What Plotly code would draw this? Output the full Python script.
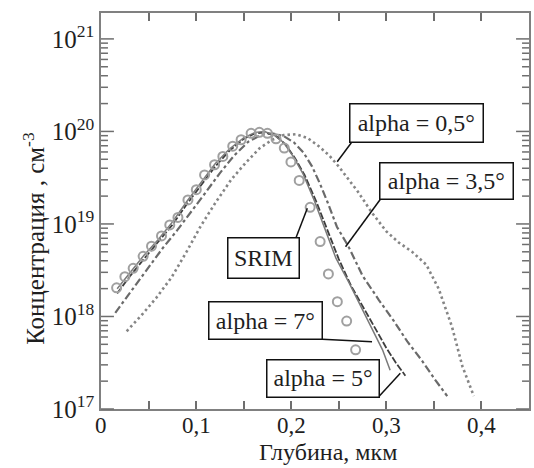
import math
import plotly.graph_objects as go

# Depth (um) and log10 of concentration (cm^-3) for each profile
srim_x = [0.0164, 0.0251, 0.0338, 0.0443, 0.0531, 0.0636, 0.0723, 0.0809, 0.0914, 0.1002,
          0.1089, 0.1194, 0.1281, 0.1385, 0.1473, 0.1578, 0.1665, 0.1750, 0.1840, 0.1927,
          0.1997, 0.2084, 0.2199, 0.2304, 0.2391, 0.2485, 0.2583, 0.2677]
srim_lg = [18.31, 18.43, 18.52, 18.65, 18.76, 18.87, 18.99, 19.07, 19.26, 19.37,
           19.53, 19.64, 19.73, 19.84, 19.91, 19.98, 19.99, 19.98, 19.92, 19.82,
           19.67, 19.47, 19.18, 18.81, 18.46, 18.16, 17.95, 17.64]

a7_x = [0.017, 0.030, 0.045, 0.060, 0.075, 0.090, 0.105, 0.120, 0.135, 0.150, 0.162, 0.172,
        0.182, 0.192, 0.202, 0.212, 0.224, 0.236, 0.247, 0.261, 0.275, 0.285, 0.296, 0.304]
a7_lg = [18.30, 18.47, 18.66, 18.83, 19.02, 19.24, 19.44, 19.65, 19.81, 19.93, 19.99, 20.00,
         19.96, 19.88, 19.73, 19.55, 19.26, 18.94, 18.63, 18.36, 18.07, 17.86, 17.64, 17.42]

a5_x = [0.017, 0.030, 0.045, 0.060, 0.075, 0.090, 0.105, 0.120, 0.135, 0.150, 0.162, 0.173,
        0.184, 0.194, 0.204, 0.214, 0.226, 0.238, 0.250, 0.263, 0.277, 0.289, 0.300, 0.310, 0.320]
a5_lg = [18.25, 18.43, 18.62, 18.80, 18.99, 19.21, 19.41, 19.62, 19.79, 19.92, 19.98, 19.99,
         19.95, 19.86, 19.71, 19.53, 19.25, 18.93, 18.62, 18.33, 18.08, 17.85, 17.66, 17.50, 17.36]

a35_x = [0.015, 0.025, 0.035, 0.050, 0.065, 0.080, 0.095, 0.110, 0.125, 0.140, 0.155, 0.168,
         0.180, 0.192, 0.203, 0.213, 0.222, 0.230, 0.238, 0.248, 0.260, 0.275, 0.292, 0.308,
         0.322, 0.337, 0.351, 0.364]
a35_lg = [18.04, 18.18, 18.33, 18.54, 18.74, 18.93, 19.13, 19.34, 19.55, 19.74, 19.89, 19.96,
          19.98, 19.95, 19.88, 19.77, 19.62, 19.44, 19.24, 18.97, 18.76, 18.44, 18.18, 17.95,
          17.73, 17.53, 17.32, 17.14]

a05_x = [0.027, 0.044, 0.058, 0.074, 0.090, 0.105, 0.121, 0.137, 0.152, 0.167, 0.180, 0.192,
         0.205, 0.217, 0.229, 0.240, 0.250, 0.260, 0.270, 0.285, 0.300, 0.313, 0.327, 0.342,
         0.355, 0.369, 0.380, 0.392]
a05_lg = [17.84, 18.03, 18.20, 18.42, 18.70, 18.98, 19.24, 19.48, 19.66, 19.82, 19.91, 19.96,
          19.97, 19.93, 19.84, 19.74, 19.62, 19.49, 19.35, 19.12, 18.92, 18.80, 18.70, 18.56,
          18.30, 17.89, 17.46, 17.14]

x_tickvals = [0, 0.05, 0.1, 0.15, 0.2, 0.25, 0.3, 0.35, 0.4, 0.45]
x_labelvals = [0, 0.1, 0.2, 0.3, 0.4]
x_labeltext = ["0", "0,1", "0,2", "0,3", "0,4"]
y_decades = [17, 18, 19, 20, 21]
y_minor_mult = [2, 3, 4, 5, 6, 7, 8, 9]


def conc(lg):
    return [10 ** v for v in lg]


# figure geometry (pixels) used to place labels, leader lines and log ticks
W, H = 534, 468
L, R, T, B = 101, 3, 13, 59
PW, PH = W - L - R, H - T - B
Y_RANGE = [17, 21.28]


def px(xp):
    return (xp - L) / PW


def py(yp):
    return (H - B - yp) / PH


def yfrac(v):
    # position of a concentration value on the log axis, as a fraction of the plot height
    return (math.log10(v) - Y_RANGE[0]) / (Y_RANGE[1] - Y_RANGE[0])


SERIF = "Liberation Serif, Times New Roman, serif"
INK = "#1e1e1e"
FRAME = "#808080"
TICK = "#6e6e6e"

fig = go.Figure()
fig.add_trace(go.Scatter(x=a05_x, y=conc(a05_lg), mode="lines", name="alpha = 0,5°",
                         line=dict(color="#858585", width=2.6, dash="2.5px,3px")))
fig.add_trace(go.Scatter(x=a35_x, y=conc(a35_lg), mode="lines", name="alpha = 3,5°",
                         line=dict(color="#6a6a6a", width=2.2, dash="8px,3px,3px,3px")))
fig.add_trace(go.Scatter(x=a5_x, y=conc(a5_lg), mode="lines", name="alpha = 5°",
                         line=dict(color="#3e3e3e", width=1.8, dash="7px,2px")))
fig.add_trace(go.Scatter(x=a7_x, y=conc(a7_lg), mode="lines", name="alpha = 7°",
                         line=dict(color="#7a7a7a", width=1.5)))
fig.add_trace(go.Scatter(x=srim_x, y=conc(srim_lg), mode="markers", name="SRIM",
                         marker=dict(symbol="circle-open", size=9, color="#a0a0a0",
                                     line=dict(width=2, color="#a0a0a0"))))

# inward log ticks on the left and right frame: long on decades, short on 2..9
for e in y_decades:
    for m in [1] + y_minor_mult:
        v = m * 10.0 ** e
        if v > 1.9e21:
            continue
        ln = (13 if m == 1 else 7) / PW
        f = yfrac(v)
        for a, b in ((0, ln), (1 - ln, 1)):
            fig.add_shape(type="line", xref="paper", yref="paper", x0=a, x1=b, y0=f, y1=f,
                          line=dict(color=TICK, width=1.5), layer="above")

# label boxes: (text, left, right, top, bottom) in pixels, plus leader line ends
boxes = [
    ("alpha = 0,5°", 351, 484, 104, 142.7, (352.5, 142.7), (338.3, 161.7)),
    ("alpha = 3,5°", 381.7, 515, 162.5, 199.3, (381.7, 199.3), (346.7, 246.7)),
    ("SRIM", 229, 300, 238, 278.3, (296.7, 238.3), (308.3, 208.3)),
    ("alpha = 7°", 210, 323.3, 301.7, 339.3, (323.3, 339.3), (373.3, 341.7)),
    ("alpha = 5°", 267.3, 380, 359.3, 396.7, (380, 396.7), (401.7, 373.3)),
]
for text, x0, x1, y0, y1, p0, p1 in boxes:
    fig.add_shape(type="line", xref="paper", yref="paper",
                  x0=px(p0[0]), y0=py(p0[1]), x1=px(p1[0]), y1=py(p1[1]),
                  line=dict(color="#111111", width=1.5))
    fig.add_annotation(xref="paper", yref="paper", x=px((x0 + x1) / 2), y=py((y0 + y1) / 2),
                       xanchor="center", yanchor="middle", text=text, showarrow=False,
                       width=x1 - x0 - 1.5, height=y1 - y0 - 1.5, borderpad=0,
                       bordercolor="#111111", borderwidth=1.5, bgcolor="white",
                       font=dict(family=SERIF, size=24, color=INK))

# depth tick labels, placed on the x scale just under the frame
for v, t in zip(x_labelvals, x_labeltext):
    fig.add_annotation(xref="x", yref="paper", x=v, y=py(425), xanchor="center",
                       yanchor="middle", text=t, showarrow=False,
                       font=dict(family=SERIF, size=23, color=INK))

# axis titles
fig.add_annotation(xref="paper", yref="paper", x=px(329), y=py(452), xanchor="center",
                   yanchor="middle", text="Глубина, мкм", showarrow=False,
                   font=dict(family=SERIF, size=24, color=INK))
fig.add_annotation(xref="paper", yref="paper", x=px(33), y=py(238.5), xanchor="center",
                   yanchor="middle", text="Концентрация , см<sup>-3</sup>", textangle=-90,
                   showarrow=False, font=dict(family=SERIF, size=25, color=INK))

fig.update_layout(
    width=W, height=H, margin=dict(l=L, r=R, t=T, b=B),
    paper_bgcolor="white", plot_bgcolor="white", showlegend=False,
    xaxis=dict(range=[0, 0.45], tickmode="array", tickvals=x_tickvals, showticklabels=False,
               ticks="inside", ticklen=8, tickwidth=1.6, tickcolor=TICK,
               showline=True, linecolor=FRAME, linewidth=1.6, mirror="allticks",
               showgrid=False, zeroline=False),
    yaxis=dict(type="log", range=Y_RANGE, tickmode="array",
               tickvals=[10.0 ** e for e in y_decades],
               ticktext=["10<sup>%d</sup>" % e for e in y_decades], ticks="",
               showline=True, linecolor=FRAME, linewidth=1.6, mirror=True,
               showgrid=False, zeroline=False,
               tickfont=dict(family=SERIF, size=25, color=INK)),
)

fig.write_html("out.html")
